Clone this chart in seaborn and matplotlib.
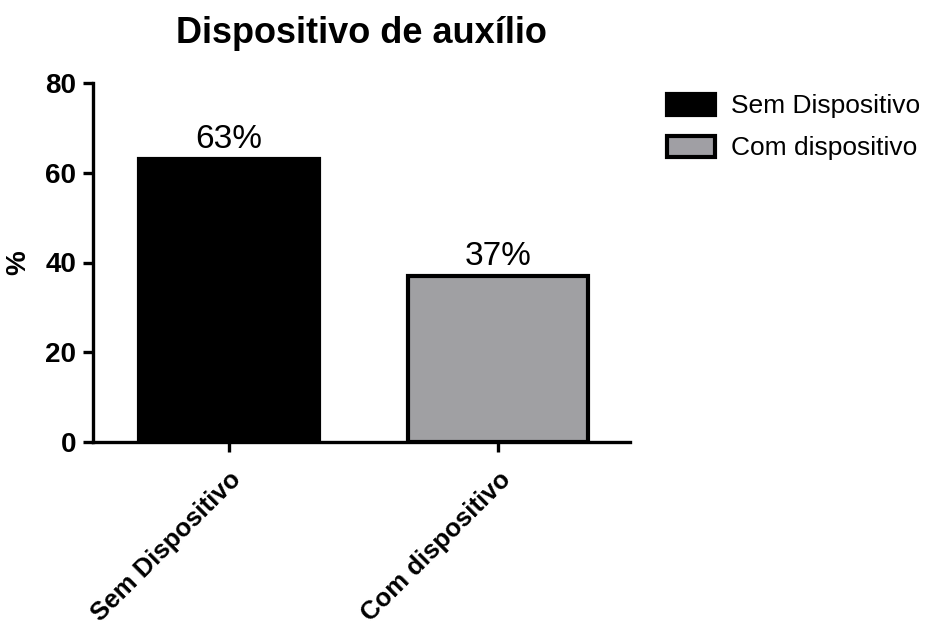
import matplotlib
matplotlib.use("Agg")
import matplotlib.pyplot as plt
import seaborn as sns
import pandas as pd

categories = ["Sem Dispositivo", "Com dispositivo"]
percentages = [63, 37]
value_labels = ["63%", "37%"]
colors = ["#000000", "#A09FA4"]

sns.set_theme(style="ticks")
plt.rcParams["font.family"] = ["Liberation Sans", "DejaVu Sans"]

df = pd.DataFrame({"grupo": categories, "pct": percentages})

fig = plt.figure(figsize=(9.38, 6.25), dpi=100)
ax = fig.add_axes([0.0991, 0.2928, 0.5725, 0.5744])

sns.barplot(data=df, x="grupo", y="pct", hue="grupo", palette=colors,
            order=categories, hue_order=categories, dodge=False,
            width=0.67, edgecolor="black", linewidth=3, legend=False, ax=ax)

for patch, lab in zip(ax.patches, value_labels):
    ax.text(patch.get_x() + patch.get_width() / 2, patch.get_height() + 0.9,
            lab, ha="center", va="bottom", fontsize=24, color="black")

ax.set_ylim(0, 80)
ax.set_xlim(-0.506, 1.49)
ax.set_yticks([0, 20, 40, 60, 80])
ax.set_xlabel("")
ax.set_ylabel("%", fontsize=20, fontweight="bold", labelpad=10, color="black")
ax.set_title("Dispositivo de auxílio", fontsize=26, fontweight="bold", pad=29,
             color="black")

sns.despine(ax=ax)
for s in ("left", "bottom"):
    ax.spines[s].set_linewidth(2.4)
    ax.spines[s].set_color("black")
ax.tick_params(axis="both", width=2.4, length=7, direction="out", labelsize=20,
               colors="black")
ax.tick_params(axis="y", pad=5)
ax.tick_params(axis="x", pad=11)
for t in ax.get_yticklabels():
    t.set_fontweight("bold")
ax.set_xticks(range(len(categories)))
ax.set_xticklabels(categories, rotation=45, ha="right", rotation_mode="anchor",
                   fontweight="bold", fontsize=18.5)

handles = [plt.Rectangle((0, 0), 1, 1, facecolor=c, edgecolor="black", linewidth=3)
           for c in colors]
fig.legend(handles, categories, loc="upper left", bbox_to_anchor=(0.686, 0.888),
           frameon=False, fontsize=19, handlelength=1.8, handleheight=0.85,
           handletextpad=0.6, labelspacing=0.65, labelcolor="black")

fig.savefig("out.png", dpi=100)
